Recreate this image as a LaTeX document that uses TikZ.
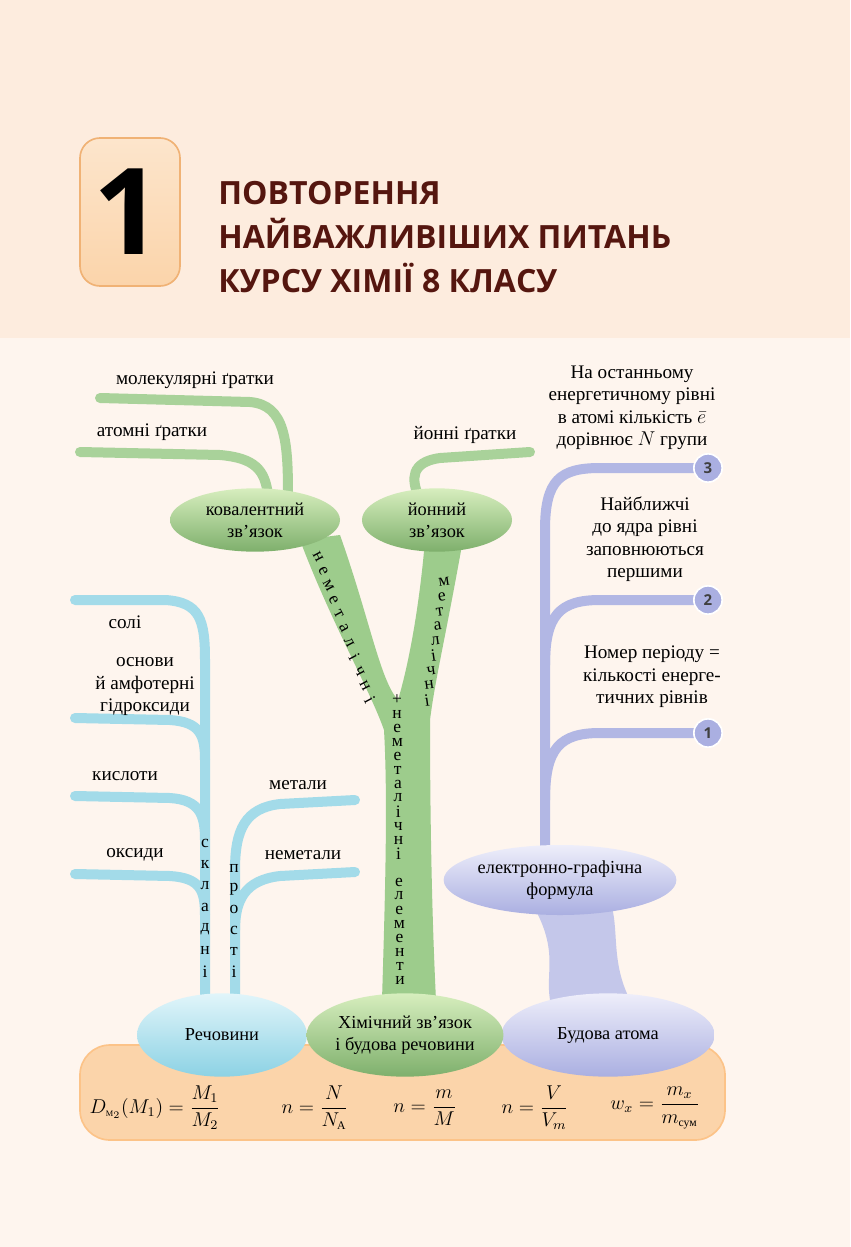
\documentclass[tikz,border=0pt]{standalone}
\usepackage{amsmath}
\usepackage{fontspec}
\setmainfont{Liberation Serif}
\newfontfamily\headfont{Open Sans}
\usetikzlibrary{calc,shapes.geometric}
\definecolor{bgtop}{RGB}{253,236,222}
\definecolor{bgbot}{RGB}{254,245,238}
\definecolor{panel}{RGB}{251,212,170}
\definecolor{titlered}{RGB}{85,22,15}
\definecolor{grn}{RGB}{140,195,120}
\definecolor{grnlt}{RGB}{215,238,190}
\definecolor{blu}{RGB}{140,210,228}
\definecolor{blult}{RGB}{225,245,250}
\definecolor{lav}{RGB}{170,175,225}
\definecolor{lavlt}{RGB}{238,238,250}
\tikzset{
  lbl/.style={inner sep=0.75pt, font=\fontsize{11.5}{13.5}\selectfont},
  blob/.style={ellipse, minimum width=#1, inner sep=0pt, align=center,
    font=\fontsize{11}{13}\selectfont},
  gblob/.style={top color=grnlt, bottom color=grn!90!black},
  bblob/.style={top color=blult, bottom color=blu},
  lblob/.style={top color=lavlt, bottom color=lav},
  twig/.style={line width=6pt, line cap=round},
  num/.style={circle, minimum size=17pt, inner sep=0pt, fill=lav, draw=white,
    line width=1pt, font=\headfont\bfseries\small, text=black!75},
  letter/.style={inner sep=0pt, font=\fontsize{10.5}{12}\selectfont},
}
\begin{document}
\begin{tikzpicture}[x=0.6pt,y=-0.6pt]
\useasboundingbox (0,0) rectangle (850,1247);
% background
\fill[bgbot] (0,0) rectangle (850,1247);
\fill[bgtop] (0,0) rectangle (850,338);

% chapter box
\draw[orange!60!brown!60, line width=1pt, top color=panel!60, bottom color=panel, rounded corners=12pt]
  (80,138) rectangle (180,286);
\node (chapnum) at (128,212) {\headfont\bfseries\fontsize{72}{72}\selectfont 1};
\node[anchor=west, align=left, text=titlered, inner sep=0pt,
  font=\headfont\bfseries\fontsize{19.2}{26.5}\selectfont] (title) at (218,237)
  {ПОВТОРЕННЯ\\НАЙВАЖЛИВІШИХ ПИТАНЬ\\КУРСУ ХІМІЇ 8 КЛАСУ};

% bottom panel
\draw[panel!80!orange, line width=1pt, fill=panel, rounded corners=18pt] (80,1045) rectangle (725,1140);

% green twigs
\draw[twig, grn!75] (100,398) -- (250,402) .. controls (285,405) and (288,440) .. (288,495);
\draw[twig, grn!75] (80,452) -- (220,455) .. controls (255,458) and (265,470) .. (268,495);
\draw[twig, grn!75] (530,452) -- (440,458) .. controls (410,462) and (412,480) .. (418,495);

% green trunk
\fill[grn!85] (300,540) -- (340,535) .. controls (370,620) and (380,680) .. (398,700)
  .. controls (410,660) and (420,600) .. (425,540) -- (462,545)
  .. controls (445,640) and (435,680) .. (430,720) .. controls (430,820) and (432,920) .. (436,1000)
  -- (382,1000) .. controls (385,900) and (388,800) .. (384,730)
  .. controls (370,690) and (330,620) .. (300,540) -- cycle;

% blue twigs
\draw[twig, blu!80] (75,600) -- (165,600) .. controls (200,602) and (205,620) .. (205,660) -- (205,995);
\draw[twig, blu!80] (75,718) -- (170,720) .. controls (200,722) and (205,735) .. (205,760);
\draw[twig, blu!80] (75,796) -- (170,798) .. controls (200,800) and (205,815) .. (205,840);
\draw[twig, blu!80] (75,874) -- (170,876) .. controls (200,878) and (205,890) .. (205,915);
\draw[twig, blu!80] (355,800) -- (280,804) .. controls (245,808) and (235,830) .. (235,870) -- (235,995);
\draw[twig, blu!80] (355,872) -- (280,876) .. controls (245,880) and (235,900) .. (235,930);

% lavender twigs
\draw[twig, lav!90] (545,845) -- (545,530) .. controls (545,480) and (560,468) .. (600,468) -- (700,468);
\draw[twig, lav!90] (545,665) .. controls (545,615) and (560,600) .. (600,600) -- (700,600);
\draw[twig, lav!90] (545,800) .. controls (545,748) and (560,733) .. (600,733) -- (700,733);
\fill[lav!70] (530,900) .. controls (560,950) and (545,970) .. (550,1000) -- (630,1000)
  .. controls (610,960) and (620,930) .. (610,900) -- cycle;

% ellipses
\node[blob=102pt, minimum height=50pt, bblob] (subst) at (222,1035) {Речовини};
\node[blob=128pt, minimum height=50pt, lblob] (atom) at (608,1035) {Будова атома};
\node[blob=108pt, minimum height=50pt, gblob] (bond) at (405,1035) {Хімічний зв’язок\\і будова речовини};
\node[blob=134pt, minimum height=42pt, lblob] (formula) at (560,880) {електронно-графічна\\формула};
\node[blob=102pt, minimum height=38pt, gblob] (cov) at (255,520) {ковалентний\\зв’язок};
\node[blob=90pt, minimum height=38pt, gblob] (ion) at (437,520) {йонний\\зв’язок};

% numbered circles
\node[num] (n3) at (708,468) {3};
\node[num] (n2) at (708,600) {2};
\node[num] (n1) at (708,733) {1};

% stacked letters
\foreach \c [count=\i from 0] in {н,е,м,е,т,а,л,і,ч,н,і}
  \node[letter, rotate=-62] at ($(318,557)!\i/10!(370,700)$) {\c};
\foreach \c [count=\i from 0] in {м,е,т,а,л,і,ч,н,і}
  \node[letter, rotate=8] at ($(444,582)!\i/8!(427,700)$) {\c};
\foreach \c [count=\i from 0] in {+,н,е,м,е,т,а,л,і,ч,н,і,{},е,л,е,м,е,н,т,и}
  \node[letter] at ($(397,700)!\i/20!(400,980)$) {\c};
\foreach \c [count=\i from 0] in {с,к,л,а,д,н,і}
  \node[letter] at ($(205,843)!\i/6!(205,972)$) {\c};
\foreach \c [count=\i from 0] in {п,р,о,с,т,і}
  \node[letter] at ($(234,868)!\i/5!(234,972)$) {\c};

% Text Node
\node[lbl] (molgr) at (195,380) {молекулярні ґратки};
\node[lbl] (atgr) at (152,432) {атомні ґратки};
\node[lbl] (iongr) at (465,435) {йонні ґратки};
\node[lbl] (salt) at (125,622) {солі};
\node[lbl, align=center] (base) at (145,687) {основи\\й амфотерні\\гідроксиди};
\node[lbl] (acid) at (125,776) {кислоти};
\node[lbl] (oxide) at (135,855) {оксиди};
\node[lbl] (metal) at (298,785) {метали};
\node[lbl] (nonmetal) at (303,855) {неметали};
\node[lbl, align=center] (rule3) at (632,408) {На останньому\\енергетичному рівні\\в атомі кількість $\bar{e}$\\дорівнює $N$ групи};
\node[lbl, align=center] (rule2) at (645,539) {Найближчі\\до ядра рівні\\заповнюються\\першими};
\node[lbl, align=center] (rule1) at (652,677) {Номер періоду =\\кількості енерге-\\тичних рівнів};

% formulas
\node[lbl] (fD) at (155,1108) {$D_{\mbox{\tiny М}_2}(M_1) = \dfrac{M_1}{M_2}$};
\node[lbl] (fNA) at (315,1108) {$n = \dfrac{N}{N_{\mbox{\scriptsize А}}}$};
\node[lbl] (fM) at (425,1108) {$n = \dfrac{m}{M}$};
\node[lbl] (fV) at (535,1108) {$n = \dfrac{V}{V_m}$};
\node[lbl] (fw) at (655,1108) {$w_x = \dfrac{m_x}{m_{\mbox{\scriptsize сум}}}$};
\end{tikzpicture}
\end{document}
